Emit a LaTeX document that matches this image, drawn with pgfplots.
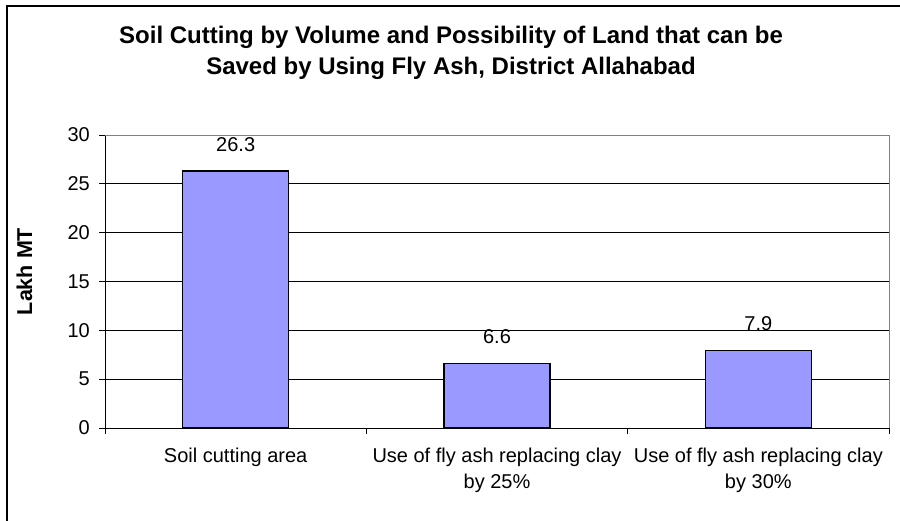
\documentclass[border=0pt]{standalone}
\usepackage{fontspec}
\setmainfont{Liberation Sans}
\usepackage{pgfplots}
\pgfplotsset{compat=1.18}
\definecolor{barblue}{HTML}{9999FF}
\definecolor{bordergray}{HTML}{808080}

\begin{document}
\begin{tikzpicture}
\useasboundingbox (0,0) rectangle (900pt,520pt);
% outer chart frame
\begin{scope}
  \clip (0,0) rectangle (900pt,520pt);
  \draw[line width=2pt] (7pt,-5pt) -- (7pt,514pt) -- (905pt,514pt);
\end{scope}
% title
\node[font=\bfseries\fontsize{24}{28}\selectfont, anchor=base] at (451pt,476pt)
  {Soil Cutting by Volume and Possibility of Land that can be};
\node[font=\bfseries\fontsize{24}{28}\selectfont, anchor=base] at (451pt,445pt)
  {Saved by Using Fly Ash, District Allahabad};
% y axis title
\node[rotate=90, anchor=base, font=\bfseries\fontsize{21.5}{24}\selectfont] at (32pt,248.5pt) {Lakh MT};

\begin{axis}[
  at={(105pt,92pt)}, anchor=south west,
  scale only axis, width=784pt, height=293pt,
  clip=false,
  xmin=-0.5, xmax=2.5, ymin=0, ymax=30,
  axis x line*=bottom, axis y line*=left,
  axis line style={-, black, line width=1pt},
  ytick={0,5,...,30},
  ymajorgrids, grid style={black, line width=1pt},
  xtick={-0.5,0.5,1.5,2.5}, xticklabels={},
  extra x ticks={0,1,2},
  extra x tick labels={{Soil cutting area},{Use of fly ash replacing clay\\by 25\%},{Use of fly ash replacing clay\\by 30\%}},
  extra x tick style={tick style={draw=none}},
  tick align=outside, major tick length=6pt,
  tick style={black, line width=1pt},
  /pgf/number format/assume math mode=true,
  tick label style={font=\fontsize{20}{26}\selectfont},
  xticklabel style={align=center, anchor=north, inner sep=0pt, yshift=-14pt},
  yticklabel style={anchor=east, inner sep=0pt, xshift=-9pt},
  ybar, bar width=106pt,
  nodes near coords,
  every node near coord/.append style={font=\fontsize{20}{24}\selectfont, anchor=south, inner sep=0pt, yshift=19pt},
  /pgf/number format/fixed, /pgf/number format/precision=1,
]
\addplot[fill=barblue, draw=black, line width=1.3pt] coordinates {(0,26.3) (1,6.6) (2,7.9)};
\draw[bordergray, line width=1pt] (rel axis cs:0,1) -- (rel axis cs:1,1) -- (rel axis cs:1,0);
\end{axis}
\end{tikzpicture}
\end{document}
